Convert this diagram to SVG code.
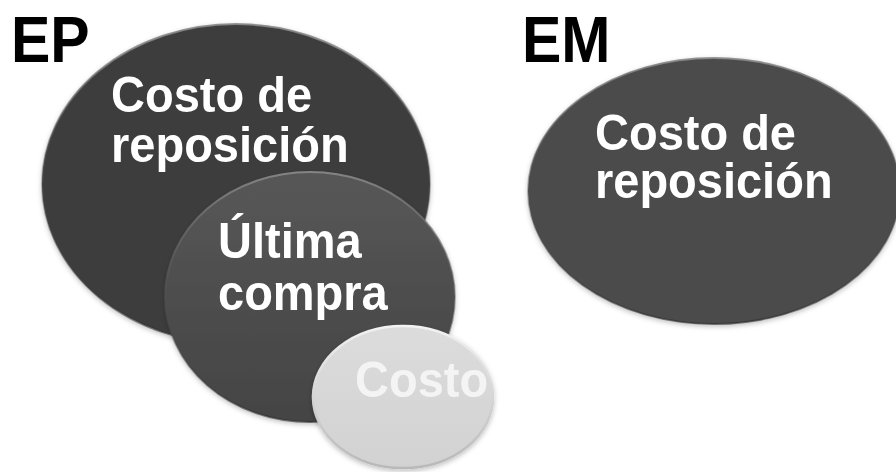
<svg xmlns="http://www.w3.org/2000/svg" width="896" height="472" viewBox="0 0 896 472">
  <defs>
    <style>
      .title { font-family: "Liberation Sans", Arial, sans-serif; font-weight: bold; font-size: 59px; fill: #000000; }
      .lbl { font-family: "Liberation Sans", Arial, sans-serif; font-weight: bold; font-size: 47px; fill: #ffffff; }
      .lbl-light { font-family: "Liberation Sans", Arial, sans-serif; font-weight: bold; font-size: 47px; fill: #f4f4f4; }
    </style>
    <linearGradient id="rimDark" x1="0" y1="0" x2="0" y2="1">
      <stop offset="0" stop-color="#8a8a8a" stop-opacity="0.9"/>
      <stop offset="0.5" stop-color="#555555" stop-opacity="0.4"/>
      <stop offset="1" stop-color="#2a2a2a" stop-opacity="0.6"/>
    </linearGradient>
    <linearGradient id="fillMid" x1="0" y1="0" x2="0" y2="1">
      <stop offset="0" stop-color="#575757"/>
      <stop offset="1" stop-color="#444444"/>
    </linearGradient>
    <linearGradient id="fillLight" x1="0" y1="0" x2="0" y2="1">
      <stop offset="0" stop-color="#dcdcdc"/>
      <stop offset="1" stop-color="#d2d2d2"/>
    </linearGradient>
    <linearGradient id="rimLight" x1="0" y1="0" x2="0" y2="1">
      <stop offset="0" stop-color="#f2f2f2"/>
      <stop offset="1" stop-color="#b8b8b8"/>
    </linearGradient>
    <filter id="shadow" x="-10%" y="-10%" width="120%" height="125%">
      <feDropShadow dx="0" dy="2" stdDeviation="2.5" flood-color="#000000" flood-opacity="0.25"/>
    </filter>
  </defs>

  <rect width="896" height="472" fill="#ffffff"/>

  <g id="connectors"></g>

  <g id="ep-title">
    <text class="title" transform="translate(11 62) scale(1 1.1)" x="0" y="0">EP</text>
  </g>

  <g id="ep-reposicion">
    <ellipse cx="236" cy="184" rx="194" ry="160" fill="#3d3d3d" stroke="url(#rimDark)" stroke-width="2" filter="url(#shadow)"/>
    <text class="lbl" transform="translate(111 112) scale(1 1.06)">
      <tspan x="0" y="0">Costo de</tspan>
      <tspan x="0" y="47">reposición</tspan>
    </text>
  </g>

  <g id="ep-ultima-compra">
    <ellipse cx="310" cy="297" rx="145" ry="125" fill="url(#fillMid)" stroke="url(#rimDark)" stroke-width="2" filter="url(#shadow)"/>
    <text class="lbl" transform="translate(218 258) scale(1 1.06)">
      <tspan x="0" y="0">Última</tspan>
      <tspan x="0" y="49">compra</tspan>
    </text>
  </g>

  <g id="ep-costo">
    <ellipse cx="403" cy="397" rx="90" ry="71" fill="url(#fillLight)" stroke="url(#rimLight)" stroke-width="2.5" filter="url(#shadow)"/>
    <text class="lbl-light" transform="translate(355 397) scale(1 1.06)" x="0" y="0">Costo</text>
  </g>

  <g id="em-title">
    <text class="title" transform="translate(522 62) scale(1 1.1)" x="0" y="0">EM</text>
  </g>

  <g id="em-reposicion">
    <ellipse cx="714" cy="191" rx="186" ry="133" fill="#4b4b4b" stroke="url(#rimDark)" stroke-width="2" filter="url(#shadow)"/>
    <text class="lbl" transform="translate(595 150) scale(1 1.05)">
      <tspan x="0" y="0">Costo de</tspan>
      <tspan x="0" y="46">reposición</tspan>
    </text>
  </g>
</svg>
